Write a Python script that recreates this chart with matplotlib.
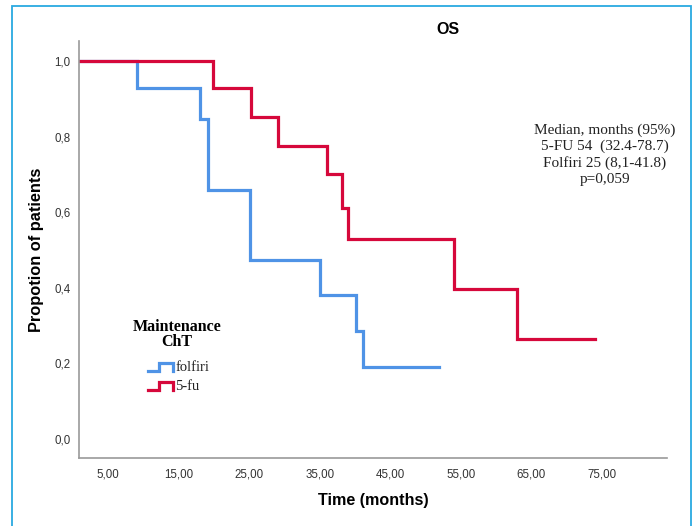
import matplotlib
matplotlib.use("Agg")
import matplotlib.pyplot as plt
from matplotlib.patches import Rectangle
from matplotlib.lines import Line2D

# ---- data ----
folfiri_t = [0.0, 9.0, 18.0, 19.1, 25.05, 35.0, 40.1, 41.1, 51.9]
folfiri_s = [1.0, 0.929, 0.847, 0.658, 0.473, 0.381, 0.287, 0.191, 0.191]
fu_t = [0.0, 19.9, 25.2, 29.1, 36.0, 38.1, 39.0, 54.1, 63.0, 74.0]
fu_s = [1.0, 0.929, 0.852, 0.776, 0.701, 0.612, 0.529, 0.397, 0.265, 0.265]
x_ticks = [5, 15, 25, 35, 45, 55, 65, 75]
x_tick_labels = ["5,00", "15,00", "25,00", "35,00", "45,00", "55,00", "65,00", "75,00"]
y_ticks = [0.0, 0.2, 0.4, 0.6, 0.8, 1.0]
y_tick_labels = ["0,0", "0,2", "0,4", "0,6", "0,8", "1,0"]
series_names = ["folfiri", "5-fu"]
annotation_lines = ["Median, months (95%)", "5-FU 54  (32.4-78.7)",
                    "Folfiri 25 (8,1-41.8)", "p=0,059"]

BLUE = "#4f93e6"
RED = "#d6083b"
W, H = 696, 526

fig = plt.figure(figsize=(W / 100, H / 100), dpi=100)
fig.patch.set_facecolor("white")

def fx(px):
    return px / W

def fy(py):
    return 1 - py / H

ax = fig.add_axes([fx(79), fy(457.7), fx(666.7) - fx(79), fy(40.7) - fy(457.7)])
ax.step(folfiri_t, folfiri_s, where="post", color=BLUE, lw=2.3, solid_joinstyle="miter")
ax.step(fu_t, fu_s, where="post", color=RED, lw=2.3, solid_joinstyle="miter")

ax.set_xlim(0.84, 84.2)
ax.set_ylim(-0.0495, 1.054)
ax.set_xticks(x_ticks)
ax.set_xticklabels(x_tick_labels)
ax.set_yticks(y_ticks)
ax.set_yticklabels(y_tick_labels)
for s in ["top", "right"]:
    ax.spines[s].set_visible(False)
for s in ["left", "bottom"]:
    ax.spines[s].set_color("#9a9a9a")
    ax.spines[s].set_linewidth(1.2)
ax.tick_params(axis="both", length=0, labelsize=8.3, labelcolor="#333333",
               labelfontfamily="Liberation Sans")
ax.tick_params(axis="y", pad=6)
ax.tick_params(axis="x", pad=8)

# titles and axis labels
fig.text(fx(447.7), fy(29.3), "OS", ha="center", va="center",
         fontsize=11.5, fontweight="bold", family="Liberation Sans")
fig.text(fx(373), fy(500.5), "Time (months)", ha="center", va="center",
         fontsize=11.6, fontweight="bold", family="Liberation Sans")
fig.text(fx(36.7), fy(250), "Propotion of patients", ha="center", va="center",
         rotation=90, fontsize=11.8, fontweight="bold", family="Liberation Sans")

# annotation
ys = [130, 146.5, 163.3, 180]
for txt, yy in zip(annotation_lines, ys):
    fig.text(fx(605), fy(yy), txt, ha="center", va="center", fontsize=11,
             family="Liberation Serif", color="#222222")

# legend
fig.text(fx(177), fy(326.7), "Maintenance", ha="center", va="center",
         fontsize=11.5, fontweight="bold", family="Liberation Serif")
fig.text(fx(177), fy(342), "ChT", ha="center", va="center",
         fontsize=11.5, fontweight="bold", family="Liberation Serif")
legend_y = [367.3, 386]
for name, col, yy in zip(series_names, [BLUE, RED], legend_y):
    xs = [fx(148), fx(159), fx(159), fx(172.5), fx(172.5)]
    yv = [fy(yy + 3.5), fy(yy + 3.5), fy(yy - 4), fy(yy - 4), fy(yy + 3.5)]
    fig.add_artist(Line2D(xs, yv, color=col, lw=2.3, solid_joinstyle="miter",
                          transform=fig.transFigure))
    fig.text(fx(175.5), fy(yy), name, ha="left", va="center", fontsize=10.5,
             family="Liberation Serif", color="#222222")

# outer frame
fig.add_artist(Rectangle((fx(11.5), fy(540)), fx(691) - fx(11.5), fy(6) - fy(540),
                         fill=False, edgecolor="#2aa9e0", lw=1.3,
                         transform=fig.transFigure, clip_on=False))

fig.savefig("out.png", dpi=100)
